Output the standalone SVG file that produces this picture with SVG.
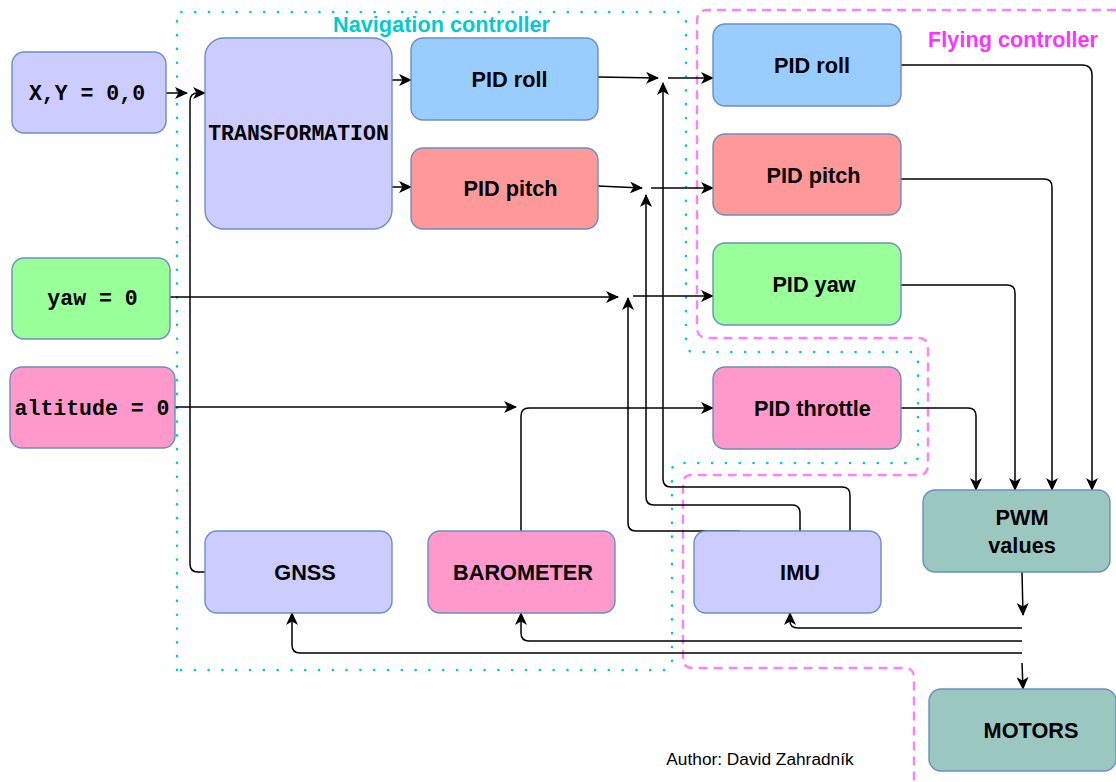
<svg xmlns="http://www.w3.org/2000/svg" width="1116" height="782" viewBox="0 0 1116 782">
<style>
.n{stroke:#6c8ebf;stroke-width:1.4}
.t{font-family:"Liberation Sans",Arial,sans-serif;font-weight:bold;font-size:21.7px;text-anchor:middle;fill:#000}
.m{font-family:"Liberation Mono","Courier New",monospace;font-weight:bold;font-size:21.5px;text-anchor:middle;fill:#000}
.c{fill:none;stroke:#000;stroke-width:1.5}
.a{marker-end:url(#ah)}
</style>
<defs>
<marker id="ah" viewBox="0 0 13 12" refX="12" refY="6" markerWidth="13" markerHeight="12" markerUnits="userSpaceOnUse" orient="auto">
<path d="M0,0 L13,6 L0,12 L3.5,6 Z" fill="#000"/>
</marker>
</defs>
<rect width="1116" height="782" fill="#fff"/>
<g id="containers">
<path d="M177,670 L177,12 L678,12 Q686,12 686,20 L686,344 Q686,352 694,352 L910,352 Q918,352 918,360 L918,455 Q918,463 910,463 L680,463 Q672,463 672,471 L672,662 Q672,670 664,670 Z" fill="none" stroke="#00cccc" stroke-width="2.6" stroke-dasharray="0.1 13.7" stroke-linecap="round"/>
<path d="M1116,10 L708,10 Q697,10 697,21 L697,327 Q697,338 708,338 L918,338 Q928,338 928,348 L928,465 Q928,475 918,475 L692,475 Q683,475 683,484 L683,658 Q683,668 693,668 L904,668 Q914,668 914,678 L914,782" fill="none" stroke="#ff80ff" stroke-width="2.4" stroke-dasharray="9 6"/>
<text x="441.5" y="31.5" class="t" style="fill:#00cccc">Navigation controller</text>
<text x="1013" y="46.5" class="t" style="fill:#ff33ff">Flying controller</text>
</g>
<g id="connectors">
<path class="c a" d="M166,93 L187,93"/>
<path class="c a" d="M205,572 L198,572 Q190,572 190,564 L190,101 Q190,93 198,93 L205,93"/>
<path class="c a" d="M392,80 L411,80"/>
<path class="c a" d="M392,187 L411,187"/>
<path class="c a" d="M598,77 L658,78"/>
<path class="c a" d="M668,78 L713,78"/>
<path class="c a" d="M598,186 L642,188"/>
<path class="c a" d="M651,188 L713,188"/>
<path class="c a" d="M170,297 L618,297"/>
<path class="c a" d="M633,296 L713,296"/>
<path class="c a" d="M175,407 L516,407"/>
<path class="c a" d="M521,531 L521,416 Q521,408 529,408 L713,408"/>
<path class="c a" d="M850,531 L850,495 Q850,487 842,487 L671,487 Q663,487 663,479 L663,83"/>
<path class="c a" d="M800,531 L800,513 Q800,505 792,505 L654,505 Q646,505 646,497 L646,195"/>
<path class="c a" d="M740,531 L636,531 Q628,531 628,523 L628,298"/>
<path class="c a" d="M901,65 L1082,65 Q1092,65 1092,75 L1092,490"/>
<path class="c a" d="M901,179 L1044,179 Q1052,179 1052,187 L1052,490"/>
<path class="c a" d="M901,285 L1007,285 Q1015,285 1015,293 L1015,490"/>
<path class="c a" d="M901,408 L968,408 Q976,408 976,416 L976,490"/>
<path class="c a" d="M1022,572 L1023,615"/>
<path class="c a" d="M1022,628 L798,628 Q790,628 790,621 L790,613"/>
<path class="c a" d="M1022,641 L529,641 Q521,641 521,633 L521,613"/>
<path class="c a" d="M1022,653 L300,653 Q292,653 292,645 L292,613"/>
<path class="c a" d="M1022,663 L1023,689"/>
</g>
<g id="n-xy"><rect class="n" x="12" y="52" width="154" height="81" rx="12" fill="#ccccff"/><text class="m" x="87" y="100">X,Y = 0,0</text></g>
<g id="n-yaw0"><rect class="n" x="12" y="258" width="158" height="81" rx="12" fill="#99ff99"/><text class="m" x="92.5" y="305">yaw = 0</text></g>
<g id="n-alt0"><rect class="n" x="10" y="367" width="165" height="81" rx="12" fill="#ff99cc"/><text class="m" x="92" y="415">altitude = 0</text></g>
<g id="n-transform"><rect class="n" x="205" y="38" width="187" height="191" rx="19" fill="#ccccff"/><text class="m" x="298.5" y="140">TRANSFORMATION</text></g>
<g id="n-navroll"><rect class="n" x="411" y="38" width="187" height="82" rx="12" fill="#99ccff"/><text class="t" x="509.5" y="87">PID roll</text></g>
<g id="n-navpitch"><rect class="n" x="411" y="148" width="187" height="81" rx="12" fill="#ff9999"/><text class="t" x="510.5" y="196">PID pitch</text></g>
<g id="n-flyroll"><rect class="n" x="713" y="24" width="188" height="82" rx="12" fill="#99ccff"/><text class="t" x="812" y="73">PID roll</text></g>
<g id="n-flypitch"><rect class="n" x="713" y="134" width="188" height="81" rx="12" fill="#ff9999"/><text class="t" x="813.5" y="183">PID pitch</text></g>
<g id="n-flyyaw"><rect class="n" x="713" y="243" width="188" height="82" rx="12" fill="#99ff99"/><text class="t" x="814" y="292">PID yaw</text></g>
<g id="n-throttle"><rect class="n" x="713" y="367" width="188" height="82" rx="12" fill="#ff99cc"/><text class="t" x="812.5" y="416">PID throttle</text></g>
<g id="n-pwm"><rect class="n" x="923" y="490" width="187" height="82" rx="12" fill="#9ac7bf"/><text class="t" x="1022" y="525">PWM</text><text class="t" x="1022" y="553">values</text></g>
<g id="n-motors"><rect class="n" x="929" y="689" width="187" height="82" rx="12" fill="#9ac7bf"/><text class="t" x="1031" y="738">MOTORS</text></g>
<g id="n-gnss"><rect class="n" x="205" y="531" width="187" height="82" rx="12" fill="#ccccff"/><text class="t" x="305" y="580">GNSS</text></g>
<g id="n-baro"><rect class="n" x="428" y="531" width="187" height="82" rx="12" fill="#ff99cc"/><text class="t" x="523" y="580">BAROMETER</text></g>
<g id="n-imu"><rect class="n" x="694" y="531" width="187" height="82" rx="12" fill="#ccccff"/><text class="t" x="800" y="580">IMU</text></g>
<text x="760" y="765" font-family="'Liberation Sans',Arial,sans-serif" font-size="17.3" text-anchor="middle" fill="#000">Author: David Zahradník</text>
</svg>
